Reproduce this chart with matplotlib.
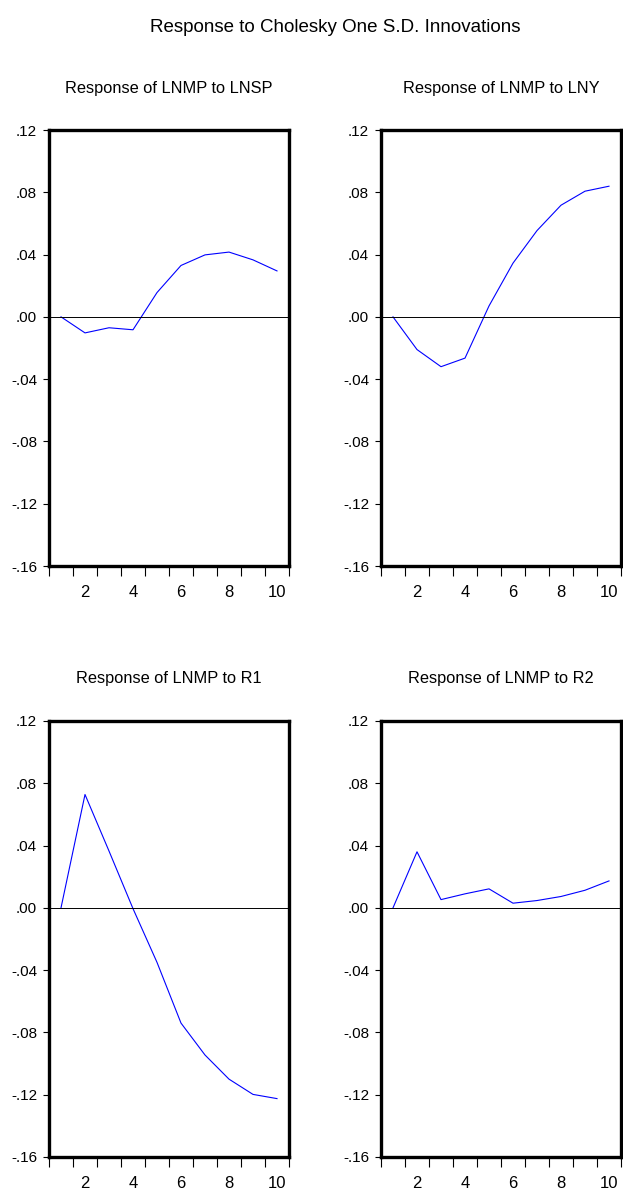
import matplotlib
matplotlib.use('Agg')
import matplotlib.pyplot as plt
from matplotlib.ticker import FixedLocator

plt.rcParams['font.family'] = ['Liberation Sans', 'DejaVu Sans']

# impulse responses of LNMP, periods 1..10
periods = [1, 2, 3, 4, 5, 6, 7, 8, 9, 10]
resp_lnsp = [0.000, -0.0103, -0.0070, -0.0083, 0.0156, 0.0330, 0.0398, 0.0416, 0.0366, 0.0295]
resp_lny = [0.000, -0.0210, -0.0320, -0.0265, 0.0070, 0.0345, 0.0554, 0.0717, 0.0807, 0.0839]
resp_r1 = [0.000, 0.0728, 0.0365, -0.0005, -0.0350, -0.0740, -0.0945, -0.1100, -0.1198, -0.1225]
resp_r2 = [0.000, 0.0360, 0.0053, 0.0090, 0.0122, 0.0030, 0.0047, 0.0073, 0.0113, 0.0173]

titles = ['Response of LNMP to LNSP', 'Response of LNMP to LNY',
          'Response of LNMP to R1', 'Response of LNMP to R2']
series = [resp_lnsp, resp_lny, resp_r1, resp_r2]

yticks = [0.12, 0.08, 0.04, 0.00, -0.04, -0.08, -0.12, -0.16]
ytick_labels = ['.12', '.08', '.04', '.00', '-.04', '-.08', '-.12', '-.16']
xlabel_pos = [2, 4, 6, 8, 10]

fig = plt.figure(figsize=(6.23, 11.91), dpi=100)
fig.text(0.538, 0.977, 'Response to Cholesky One S.D. Innovations',
         ha='center', va='center', fontsize=13.5)

W = 240 / 623
H = 436 / 1191
lefts = [49 / 623, 381 / 623]
bottoms = [1 - 566 / 1191, 1 - 1157 / 1191]

for i, (ttl, y) in enumerate(zip(titles, series)):
    ax = fig.add_axes([lefts[i % 2], bottoms[i // 2], W, H])
    ax.plot(periods, y, color='#0000ff', lw=0.8)
    ax.axhline(0, color='black', lw=0.7)
    ax.set_xlim(0.5, 10.5)
    ax.set_ylim(-0.16, 0.12)
    for s in ax.spines.values():
        s.set_linewidth(2.4)
    ax.set_yticks(yticks)
    ax.set_yticklabels(ytick_labels)
    ax.xaxis.set_major_locator(FixedLocator([p - 0.5 for p in periods] + [10.5]))
    ax.xaxis.set_minor_locator(FixedLocator(xlabel_pos))
    ax.set_xticklabels([], minor=False)
    ax.set_xticklabels([str(p) for p in xlabel_pos], minor=True)
    ax.tick_params(axis='x', which='major', direction='out', length=7, width=0.8)
    ax.tick_params(axis='x', which='minor', length=0, pad=13.5, labelsize=12)
    ax.tick_params(axis='y', direction='out', length=4, width=0.8, pad=4.5, labelsize=11)
    ax.set_title(ttl, fontsize=11.8, pad=27)

fig.savefig('out.png', dpi=100)
